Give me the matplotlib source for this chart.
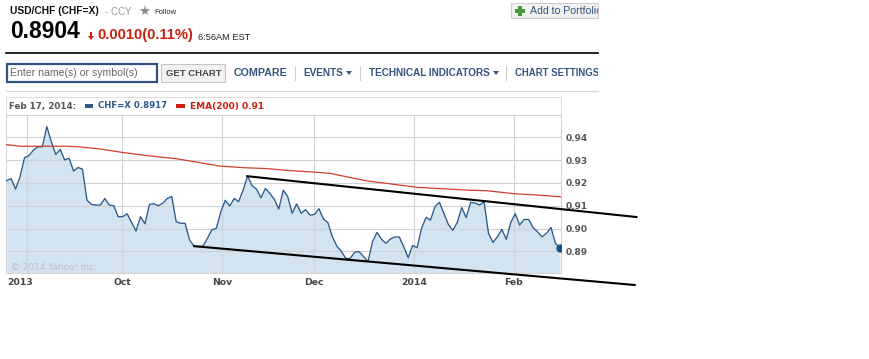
import matplotlib
matplotlib.use("Agg")
import matplotlib.pyplot as plt
from matplotlib.patches import Rectangle, Polygon
import numpy as np

# daily close
closes = [.9210,.9219,.9173,.9227,.9311,.9320,.9344,.9358,.9359,.9447,.9381,.9325,.9347,.9301,.9308,.9252,
          .9268,.9260,.9125,.9106,.9103,.9103,.9132,.9103,.9100,.9052,.9052,.9065,.9027,.8989,.9052,.9021,
          .9106,.9109,.9100,.9111,.9132,.9141,.9030,.9023,.9023,.8950,.8923,.8922,.8923,.8957,.8995,.9001,
          .9074,.9124,.9099,.9132,.9118,.9169,.9230,.9188,.9173,.9135,.9176,.9154,.9128,.9086,.9168,.9140,
          .9067,.9108,.9067,.9083,.9059,.9062,.9087,.9042,.9026,.8964,.8923,.8901,.8869,.8869,.8896,.8899,
          .8877,.8855,.8942,.8983,.8954,.8935,.8954,.8963,.8963,.8920,.8872,.8926,.8916,
          .9001,.9049,.9037,.9096,.9115,.9067,.9018,.8992,.9027,.9092,.9048,.9115,.9112,.9103,.9118,.8979,
          .8939,.8964,.8996,.8953,.9027,.9065,.9015,.9040,.9040,.9004,.8986,.8964,.8979,.9005,.8935,.8916]

ema_idx = [0,3,7.9,13.5,16.4,20.9,25.9,31.4,38.1,43.3,47.8,53,58.3,63.5,68.7,72.5,76.2,80.7,85.2,91.9,
           96.4,103.9,107.6,113.6,118.8,124.4]
ema_vals = [.9368,.9361,.9361,.9361,.9358,.9349,.9334,.9320,.9306,.9289,.9274,.9267,.9263,.9254,.9248,.9242,
            .9227,.9209,.9198,.9181,.9176,.9168,.9166,.9153,.9147,.9139]

# hand drawn trend lines
upper_idx = [53.7, 141.4]
upper_vals = [.9230, .9050]
lower_idx = [41.8, 141.0]
lower_vals = [.8923, .8752]

grid_idx = [4.6, 25.9, 48.2, 68.9, 91.3, 113.7]
label_idx = [3, 25.9, 48.2, 68.9, 91.3, 113.7]
month_labels = ["2013", "Oct", "Nov", "Dec", "2014", "Feb"]
y_ticks = [.89, .90, .91, .92, .93, .94]

W, H = 870, 359
SANS = "Liberation Sans"
BLUE = "#2a5a8c"
RED = "#cc1f10"
NAV = "#33557f"

fig = plt.figure(figsize=(W/100, H/100), dpi=100)

# page furniture in pixel coordinates
page = fig.add_axes([0, 0, 1, 1])
page.set_xlim(0, W)
page.set_ylim(H, 0)
page.axis("off")

def txt(x, y, s, size, color="black", weight="normal", family=SANS, clip=False):
    t = page.text(x, y, s, fontsize=size*0.72, color=color, fontweight=weight, family=family, va="center")
    if clip:
        t.set_clip_on(True)
        t.set_clip_path(Rectangle((0, 0), 598, H, transform=page.transData))
    return t

txt(10, 11, "USD/CHF (CHF=X)", 10.3, "#111111", "bold")
txt(105, 12, "- CCY", 9.8, "#999999")
page.plot([145], [11], marker="*", ms=8, color="#8c8c8c", mew=0)
txt(154, 12, "Follow", 7.5, "#222222")
txt(10, 32, "0.8904", 22.7, "black", "bold")
page.add_patch(Polygon([[88, 36], [94, 36], [91, 40]], color=RED, lw=0))
page.add_patch(Rectangle((90, 32), 2, 5, color=RED, lw=0))
txt(97, 35, "0.0010(0.11%)", 14.7, RED, "bold")
txt(198, 37, "6:56AM EST", 9.3, "#222222")

page.add_patch(Rectangle((511, 3), 87, 15, fc="#f2f2f2", ec="#cccccc", lw=0.8))
page.plot([520], [11], marker="P", ms=7, color="#4a9a3c", mew=0)
txt(530, 11, "Add to Portfolio", 10.5, "#33557f", clip=True)

page.plot([6, 598], [53, 53], color="black", lw=1.2)
page.add_patch(Rectangle((7, 64), 150, 18, fc="white", ec="#2f5283", lw=1.6))
txt(10, 73, "Enter name(s) or symbol(s)", 10.5, "#666666")
page.add_patch(Rectangle((161, 64), 64, 18, fc="#f2f2f2", ec="#c4c4c4", lw=0.8))
txt(166, 73.5, "GET CHART", 9.5, "#444444", "bold")
txt(234, 73.5, "COMPARE", 10.6, NAV, "bold")
txt(303, 73.5, "EVENTS", 10, NAV, "bold")
txt(369, 73.5, "TECHNICAL INDICATORS", 10, NAV, "bold")
txt(515, 73.5, "CHART SETTINGS", 9.7, NAV, "bold", clip=True)
for x in [295, 360, 506]:
    page.plot([x, x], [66, 80], color="#cfcfcf", lw=0.8)
for x in [349, 496]:
    page.add_patch(Polygon([[x-3, 71], [x+3, 71], [x, 75]], color=NAV, lw=0))
page.plot([6, 598], [91, 91], color="#d8d8d8", lw=0.8)

# legend strip
page.plot([6, 561], [97, 97], color="#dddddd", lw=0.8)
page.plot([6, 6], [97, 115], color="#dddddd", lw=0.8)
page.plot([561, 561], [97, 115], color="#dddddd", lw=0.8)
txt(9, 106, "Feb 17, 2014:", 8.8, "#555555", "bold", "DejaVu Sans")
page.add_patch(Rectangle((85, 104), 8, 3.5, color=BLUE, lw=0))
txt(98, 106, "CHF=X 0.8917", 8.7, BLUE, "bold", "DejaVu Sans")
page.add_patch(Rectangle((176, 104), 9, 3.5, color=RED, lw=0))
txt(190, 106, "EMA(200) 0.91", 9.0, RED, "bold", "DejaVu Sans")

# the chart itself
ax = fig.add_axes([6/W, 1-273/H, 555/W, 158/H])
ax.patch.set_alpha(0)
x = np.arange(len(closes))
ax.set_xlim(-0.15, 124.25)
ax.set_ylim(.8805, .9498)
ax.set_axisbelow(True)
ax.fill_between(x, closes, .8805, color="#d3e3ef", lw=0, zorder=2)
for g in grid_idx:
    ax.axvline(g, color="#cdd3d9", lw=0.8, zorder=3)
for v in y_ticks:
    ax.axhline(v, color="#cdd3d9", lw=0.8, zorder=3)
ax.plot(x, closes, color=BLUE, lw=0.95, zorder=4)
ax.plot(ema_idx, ema_vals, color="#d0402f", lw=0.9, zorder=4)
ax.plot(x[-1], closes[-1], "o", color="#1d5480", ms=5, zorder=5)
ax.plot(upper_idx, upper_vals, color="black", lw=1.5, clip_on=False, zorder=6, solid_capstyle="butt")
ax.plot(lower_idx, lower_vals, color="black", lw=1.5, clip_on=False, zorder=6, solid_capstyle="butt")
ax.text(1.0, .8829, "\u00a9 2014 Yahoo! Inc.", fontsize=6.4, color="#b4c0ca", family="DejaVu Sans", va="center", zorder=5)

ax.yaxis.tick_right()
ax.set_yticks(y_ticks, ["%.2f" % v for v in y_ticks], fontsize=6.5, color="#555555", fontweight="bold")
ax.set_xticks(label_idx, month_labels, fontsize=6.7, color="#444444", fontweight="bold")
ax.tick_params(length=0, pad=3)
ax.tick_params(axis="x", pad=3.8)
for s in ax.spines.values():
    s.set_color("#d5d5d5")
    s.set_linewidth(0.8)

plt.savefig("out.png", dpi=100)
